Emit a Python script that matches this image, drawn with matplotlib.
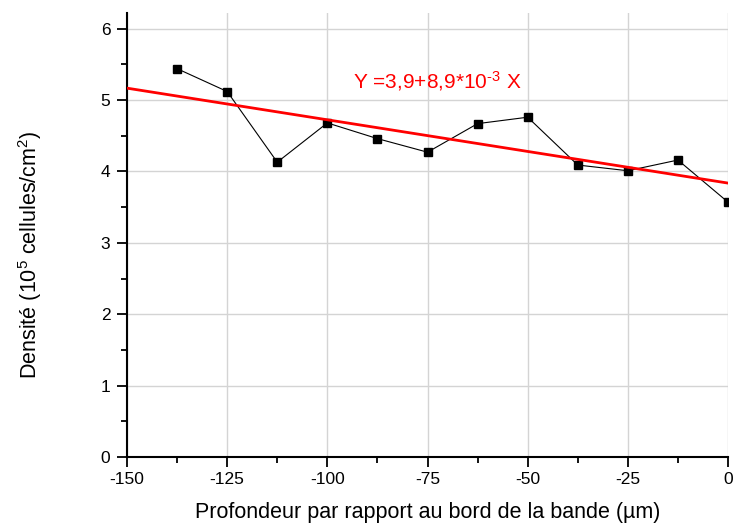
import matplotlib as mpl

mpl.use("Agg")

import matplotlib.pyplot as plt
from matplotlib.ticker import MultipleLocator
import numpy as np

# depth from the band edge (um) and cell density (1e5 cells/cm2)
profondeur = [-137.5, -125, -112.5, -100, -87.5, -75, -62.5, -50,
              -37.5, -25, -12.5, 0]
densite = [5.44, 5.12, 4.13, 4.68, 4.46, 4.27, 4.67, 4.76,
           4.09, 4.01, 4.16, 3.57]

x_ticks = [-150, -125, -100, -75, -50, -25, 0]
y_ticks = [0, 1, 2, 3, 4, 5, 6]
fit_label = r"Y =3,9+8,9*10$^{\text{-3}}$ X"

plt.rcParams["font.family"] = ["Liberation Sans", "DejaVu Sans"]
plt.rcParams["mathtext.fontset"] = "custom"
plt.rcParams["mathtext.rm"] = "Liberation Sans"
plt.rcParams["mathtext.it"] = "Liberation Sans:italic"
plt.rcParams["mathtext.default"] = "regular"
plt.rcParams["axes.unicode_minus"] = False

fig = plt.figure(figsize=(7.35, 5.26), dpi=100)
ax = fig.add_axes([0.1728, 0.1312, 0.8177, 0.8441])

ax.grid(True, color="#d4d4d4", linewidth=1.0, zorder=0)
ax.set_axisbelow(True)

ax.plot(profondeur, densite, color="black", linewidth=0.8, marker="s",
        markersize=6, markerfacecolor="black", markeredgecolor="black",
        zorder=3)

# linear fit of the points
pente, origine = np.polyfit(profondeur, densite, 1)
xf = np.array([-150, 0])
ax.plot(xf, origine + pente * xf, color="red", linewidth=2, zorder=4)

ax.text(-93.6, 5.26, fit_label, color="red", fontsize=15, va="center",
        ha="left")

ax.set_xlim(-150, 0)
ax.set_ylim(0, 6.22)
ax.set_xticks(x_ticks)
ax.set_yticks(y_ticks)
ax.xaxis.set_minor_locator(MultipleLocator(12.5))
ax.yaxis.set_minor_locator(MultipleLocator(0.5))
ax.tick_params(which="major", direction="out", length=7, width=1.3,
               labelsize=12.5)
ax.tick_params(axis="y", which="major", pad=5)
ax.tick_params(axis="x", which="major", pad=4)
ax.tick_params(which="minor", direction="out", length=4, width=1.3)

for side in ["top", "right"]:
    ax.spines[side].set_visible(False)
for side in ["left", "bottom"]:
    ax.spines[side].set_linewidth(1.5)

ax.set_xlabel("Profondeur par rapport au bord de la bande (µm)", fontsize=15.5)
ax.xaxis.set_label_coords(0.5, -0.124)
ax.xaxis.label.set_va("center")
ax.set_ylabel(r"Densité (10$^5$ cellules/cm$^2$)", fontsize=15.5)
ax.yaxis.set_label_coords(-0.161, 0.455)
ax.yaxis.label.set_va("center")

fig.savefig("out.png", dpi=100)
